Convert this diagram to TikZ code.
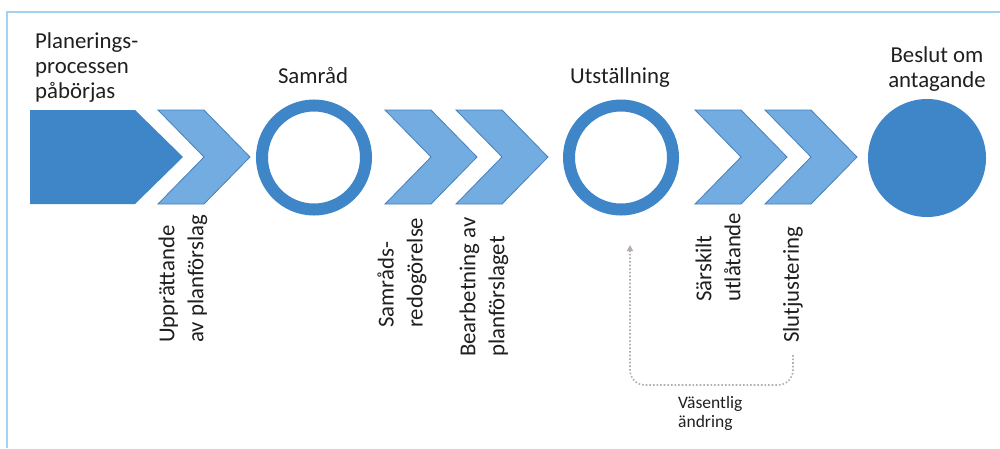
\documentclass[tikz,border=0pt]{standalone}
\usepackage{fontspec}
\setmainfont{Carlito}
\usetikzlibrary{arrows.meta}
\definecolor{dblue}{RGB}{62,134,199}
\definecolor{lblue}{RGB}{114,172,224}
\definecolor{cedge}{RGB}{70,128,190}
\definecolor{framec}{RGB}{160,212,240}
\definecolor{dotgrey}{RGB}{182,172,172}
\begin{document}
\begin{tikzpicture}[x=1pt,y=-1pt,
  lab/.style={font=\fontsize{22.8}{25}\selectfont, inner sep=0pt, text=black!88},
  rlab/.style={font=\fontsize{22.8}{29}\selectfont, inner sep=0pt, text=black!88, rotate=90, anchor=west, align=left},
  smalllab/.style={font=\fontsize{17.5}{19}\selectfont, inner sep=0pt, text=black!88, align=left},
  chev/.style={fill=lblue, draw=cedge, line width=0.8pt, line join=miter},
  ring/.style={circle, draw=dblue, line width=12pt, minimum size=104pt, inner sep=0pt},
  disc/.style={circle, fill=dblue, minimum size=118pt, inner sep=0pt},
  conn/.style={draw=dotgrey, line width=1.6pt, dotted, rounded corners=15pt, -{Triangle[width=6pt,length=6pt]}}
]
\useasboundingbox (0,0) rectangle (1000,448);
\fill[white] (0,0) rectangle (1000,448);
\draw[framec, line width=2pt] (7,448) -- (7,12) -- (1000,12);

% start block
\fill[dblue] (30,110) -- (135,110) -- (183,157) -- (135,204) -- (30,204) -- cycle;
% chevrons
\foreach \L in {158,385,456,695,765}
  \draw[chev] (\L,110) -- (\L+46,110) -- (\L+92,157) -- (\L+46,204) -- (\L,204) -- (\L+46,157) -- cycle;

% milestones
\node[ring] (samrad) at (314,157.5) {};
\node[ring] (utst) at (621,157.5) {};
\node[disc] (beslut) at (927,158) {};

% top labels
\node[lab, anchor=north west, align=left] (start) at (35,32) {Planerings-\\processen\\påbörjas};
\node[lab, anchor=base] (samradlab) at (313,83) {Samråd};
\node[lab, anchor=base] (utstlab) at (620,83) {Utställning};
\node[lab, anchor=south, align=center] (beslutlab) at (937,92) {Beslut om\\antagande};

% rotated labels
\node[rlab] (upp) at (183,343) {Upprättande\\av planförslag};
\node[rlab] (samr) at (402,328) {Samråds-\\redogörelse};
\node[rlab] (bearb) at (484,357) {Bearbetning av\\planförslaget};
\node[rlab] (sark) at (718,302) {Särskilt\\utlåtande};
\node[rlab] (slut) at (793,343) {Slutjustering};

% feedback loop
\coordinate (turn) at (630,385);
\coordinate (back) at (630,245);
\draw[conn] ([yshift=-12pt]slut.west) |- (turn) -- (back);
\node[smalllab, anchor=north west] (vas) at (678,396) {Väsentlig\\ändring};
\end{tikzpicture}
\end{document}
